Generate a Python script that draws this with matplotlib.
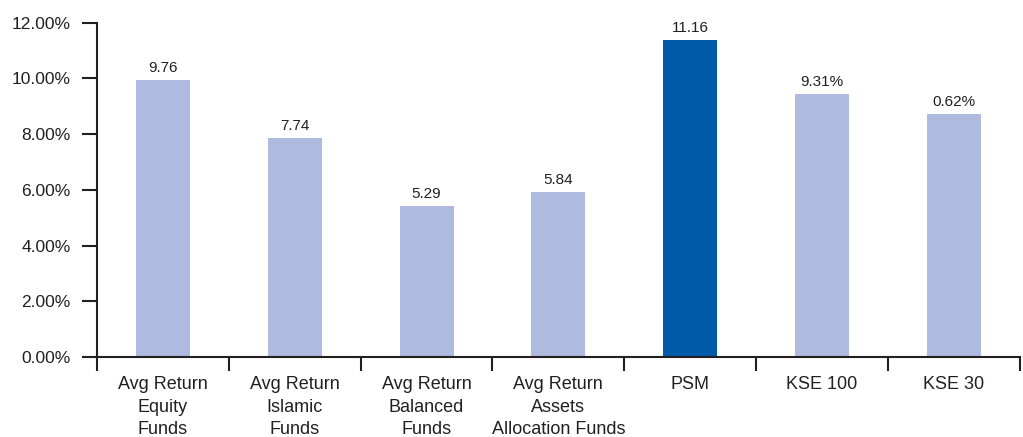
import matplotlib
matplotlib.use('Agg')
import matplotlib.pyplot as plt
import numpy as np
from matplotlib.ticker import FuncFormatter

plt.rcParams['font.family'] = ['Liberation Sans', 'DejaVu Sans']

categories = ['Avg Return\nEquity\nFunds', 'Avg Return\nIslamic\nFunds', 'Avg Return\nBalanced\nFunds',
              'Avg Return\nAssets\nAllocation Funds', 'PSM', 'KSE 100', 'KSE 30']
returns = [9.94, 7.85, 5.41, 5.91, 11.37, 9.43, 8.71]
value_labels = ['9.76', '7.74', '5.29', '5.84', '11.16', '9.31%', '0.62%']
highlight = 'PSM'

LIGHT = '#aebadf'
DARK = '#005aaa'
INK = '#231f20'

fig = plt.figure(figsize=(10.23, 4.37), dpi=100)
ax = fig.add_axes([0.0948, 0.183, 0.902, 0.765])

x = np.arange(len(categories))
colors = [DARK if c == highlight else LIGHT for c in categories]
ax.bar(x, returns, width=0.41, color=colors, zorder=2)

for xi, v, lab in zip(x, returns, value_labels):
    ax.text(xi, v + 0.2, lab, ha='center', va='bottom', fontsize=11, color=INK)

ax.set_xlim(-0.5, len(categories) - 0.5)
ax.set_ylim(0, 12)
ax.set_yticks(np.arange(0, 12.1, 2))
ax.yaxis.set_major_formatter(FuncFormatter(lambda v, p: f'{v:.2f}%'))

ax.set_xticks(x)
ax.set_xticklabels(categories, fontsize=13, color=INK, linespacing=1.42)
ax.set_xticks(np.arange(-0.5, len(categories)), minor=True)
ax.tick_params(axis='x', which='major', length=0, pad=14)
ax.tick_params(axis='x', which='minor', length=10, width=1.5, color=INK, direction='out')
ax.tick_params(axis='y', length=11, width=1.5, color=INK, labelsize=12.5, labelcolor=INK, pad=8)

for s in ['top', 'right']:
    ax.spines[s].set_visible(False)
for s in ['left', 'bottom']:
    ax.spines[s].set_linewidth(1.5)
    ax.spines[s].set_color(INK)

fig.savefig('out.png', dpi=100)
